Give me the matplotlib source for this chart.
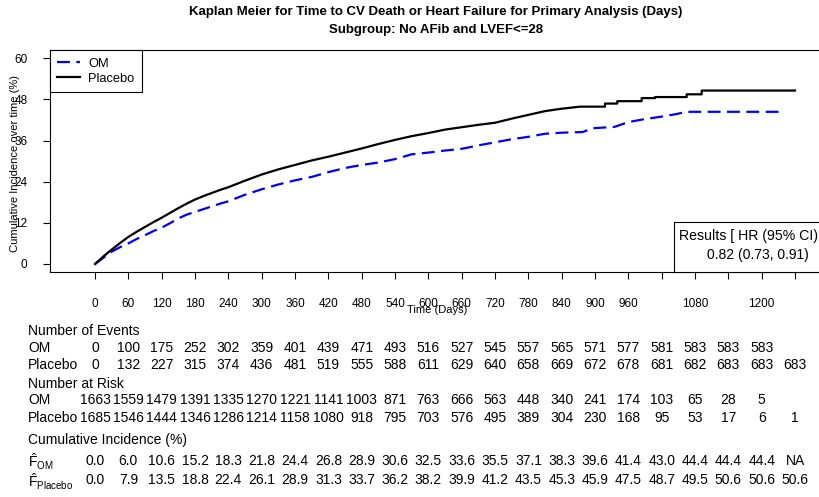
import matplotlib
matplotlib.use("Agg")
import matplotlib.pyplot as plt
from matplotlib.transforms import blended_transform_factory
from matplotlib.patches import Rectangle
from matplotlib.lines import Line2D

plt.rcParams['font.family'] = ['Liberation Sans', 'DejaVu Sans']
plt.rcParams['mathtext.fontset'] = 'custom'
plt.rcParams['mathtext.rm'] = 'Liberation Sans'
plt.rcParams['mathtext.it'] = 'Liberation Sans'
plt.rcParams['mathtext.bf'] = 'Liberation Sans:bold'

title = "Kaplan Meier for Time to CV Death or Heart Failure for Primary Analysis (Days)"
subtitle = "Subgroup: No AFib and LVEF<=28"
ylabel = "Cumulative Incidence over time (%)"
xlabel = "Time (Days)"
groups = ["OM", "Placebo"]
hr_title = "Results [ HR (95% CI)"
hr_value = "0.82 (0.73, 0.91)"

# Cumulative incidence curves (day, %); repeated days mark visible jumps
om_days = [0, 15, 30, 45, 60, 75, 90, 105, 120, 135, 150, 165, 180, 195, 210,
           225, 240, 270, 300, 330, 360, 390, 420, 450, 480, 510, 540, 570,
           600, 630, 660, 690, 720, 750, 780, 810, 840, 878, 895, 935, 960,
           990, 1020, 1045, 1065, 1238]
om_ci = [0.0, 1.8, 3.6, 4.9, 6.0, 7.3, 8.4, 9.6, 10.6, 11.9, 13.3, 14.4, 15.2,
         16.0, 16.8, 17.6, 18.3, 20.2, 21.8, 23.2, 24.4, 25.4, 26.8, 28.0,
         28.9, 29.6, 30.6, 32.0, 32.5, 33.1, 33.6, 34.6, 35.5, 36.4, 37.1,
         38.0, 38.3, 38.5, 39.6, 40.0, 41.4, 42.3, 43.0, 43.7, 44.4, 44.4]

pl_days = [0, 15, 30, 45, 60, 75, 90, 105, 120, 135, 150, 165, 180, 195, 210,
           225, 240, 270, 300, 330, 360, 390, 420, 450, 480, 510, 540, 570,
           600, 630, 660, 690, 720, 750, 780, 810, 840, 873, 918, 918, 940,
           940, 984, 984, 1008, 1008, 1065, 1065, 1092, 1092, 1260]
pl_ci = [0.0, 2.2, 4.2, 6.1, 7.9, 9.4, 10.8, 12.2, 13.5, 14.9, 16.3, 17.6,
         18.8, 19.8, 20.7, 21.6, 22.4, 24.3, 26.1, 27.6, 28.9, 30.2, 31.3,
         32.5, 33.7, 35.0, 36.2, 37.3, 38.2, 39.2, 39.9, 40.6, 41.2, 42.4,
         43.5, 44.6, 45.3, 45.9, 45.9, 46.8, 46.8, 47.5, 47.5, 48.4, 48.4,
         48.7, 48.7, 49.5, 49.5, 50.6, 50.6]

# Table columns and axis ticks
table_days = list(range(0, 1261, 60))
tick_labels = ["0", "60", "120", "180", "240", "300", "360", "420", "480",
               "540", "600", "660", "720", "780", "840", "900", "960", "",
               "1080", "", "1200", ""]
y_ticks = [0, 12, 24, 36, 48, 60]

events_om = [0, 100, 175, 252, 302, 359, 401, 439, 471, 493, 516, 527, 545,
             557, 565, 571, 577, 581, 583, 583, 583]
events_pl = [0, 132, 227, 315, 374, 436, 481, 519, 555, 588, 611, 629, 640,
             658, 669, 672, 678, 681, 682, 683, 683, 683]
risk_om = [1663, 1559, 1479, 1391, 1335, 1270, 1221, 1141, 1003, 871, 763,
           666, 563, 448, 340, 241, 174, 103, 65, 28, 5]
risk_pl = [1685, 1546, 1444, 1346, 1286, 1214, 1158, 1080, 918, 795, 703,
           576, 495, 389, 304, 230, 168, 95, 53, 17, 6, 1]
cuminc_om = ["0.0", "6.0", "10.6", "15.2", "18.3", "21.8", "24.4", "26.8",
             "28.9", "30.6", "32.5", "33.6", "35.5", "37.1", "38.3", "39.6",
             "41.4", "43.0", "44.4", "44.4", "44.4", "NA"]
cuminc_pl = ["0.0", "7.9", "13.5", "18.8", "22.4", "26.1", "28.9", "31.3",
             "33.7", "36.2", "38.2", "39.9", "41.2", "43.5", "45.3", "45.9",
             "47.5", "48.7", "49.5", "50.6", "50.6", "50.6"]

W, H = 819, 497
fig = plt.figure(figsize=(W / 100, H / 100), dpi=100)


def fy(py):
    return 1 - py / H


def fx(px):
    return px / W


ax_l, ax_r, ax_t, ax_b = 49.7, 823.7, 50.1, 272.2
ax = fig.add_axes([fx(ax_l), fy(ax_b), (ax_r - ax_l) / W, (ax_b - ax_t) / H])

om_dash = (5.8, 2.9)
ax.plot(om_days, om_ci, color='#0000FF', lw=1.6, dashes=om_dash)
ax.plot(pl_days, pl_ci, color='black', lw=1.6)

ax.set_xlim(-81.6, 1311.6)
ax.set_ylim(-2.4, 62.4)
ax.set_xticks(table_days)
ax.set_xticklabels(tick_labels, fontsize=8.5)
ax.set_yticks(y_ticks)
ax.set_yticklabels([str(v) for v in y_ticks], fontsize=8.5)
ax.tick_params(axis='x', direction='out', length=5, width=0.8, pad=13.5)
ax.tick_params(axis='y', direction='out', length=5, width=0.8, pad=11)
for s in ax.spines.values():
    s.set_linewidth(0.8)
    s.set_color('black')

fig.text(fx(15.5), fy(163), ylabel, rotation=90, ha='center', va='center',
         fontsize=8)
fig.text(fx(437), fy(310), xlabel, ha='center', va='center', fontsize=8)

handles = [Line2D([], [], color='#0000FF', lw=1.6, dashes=om_dash),
           Line2D([], [], color='black', lw=1.6)]
leg = ax.legend(handles, groups, loc='upper left', bbox_to_anchor=(0, 1),
                borderaxespad=0, frameon=True, fancybox=False,
                edgecolor='black', framealpha=1, fontsize=9.3,
                handlelength=1.75, handletextpad=0.65, labelspacing=0.2,
                borderpad=0.6)
leg.get_frame().set_linewidth(0.8)

# Hazard ratio box in the lower right corner
ax.add_patch(Rectangle((1042, -2.4), 400, 14.65, facecolor='white',
                       edgecolor='black', lw=0.8, clip_on=False, zorder=4))
fig.text(fx(679), fy(236), hr_title, ha='left', va='center', fontsize=10.2,
         zorder=5)
fig.text(fx(758), fy(255), hr_value, ha='center', va='center', fontsize=10,
         zorder=5)

fig.text(fx(436), fy(12), title, ha='center', va='center', fontsize=9.5,
         fontweight='bold')
fig.text(fx(436), fy(30), subtitle, ha='center', va='center', fontsize=9.5,
         fontweight='bold')

# Risk table below the plot
trans = blended_transform_factory(ax.transData, fig.transFigure)
tfs = 10
label_x = fx(28)


def row(values, py):
    for d, v in zip(table_days, values):
        ax.text(d, fy(py), str(v), transform=trans, ha='center',
                va='center', fontsize=tfs, clip_on=False)


fig.text(label_x, fy(331), "Number of Events", ha='left', va='center',
         fontsize=tfs)
fig.text(label_x, fy(348), groups[0], ha='left', va='center', fontsize=tfs)
fig.text(label_x, fy(365), groups[1], ha='left', va='center', fontsize=tfs)
row(events_om, 348)
row(events_pl, 365)

fig.text(label_x, fy(384), "Number at Risk", ha='left', va='center',
         fontsize=tfs)
fig.text(label_x, fy(400), groups[0], ha='left', va='center', fontsize=tfs)
fig.text(label_x, fy(418), groups[1], ha='left', va='center', fontsize=tfs)
row(risk_om, 400)
row(risk_pl, 418)

fig.text(label_x, fy(440), "Cumulative Incidence (%)", ha='left',
         va='center', fontsize=tfs)
fig.text(label_x, fy(462), r'$\hat{\mathrm{F}}_{\mathrm{OM}}$', ha='left',
         va='center', fontsize=tfs)
fig.text(label_x, fy(482), r'$\hat{\mathrm{F}}_{\mathrm{Placebo}}$',
         ha='left', va='center', fontsize=tfs)
row(cuminc_om, 461)
row(cuminc_pl, 480)

fig.savefig("out.png", dpi=100)
